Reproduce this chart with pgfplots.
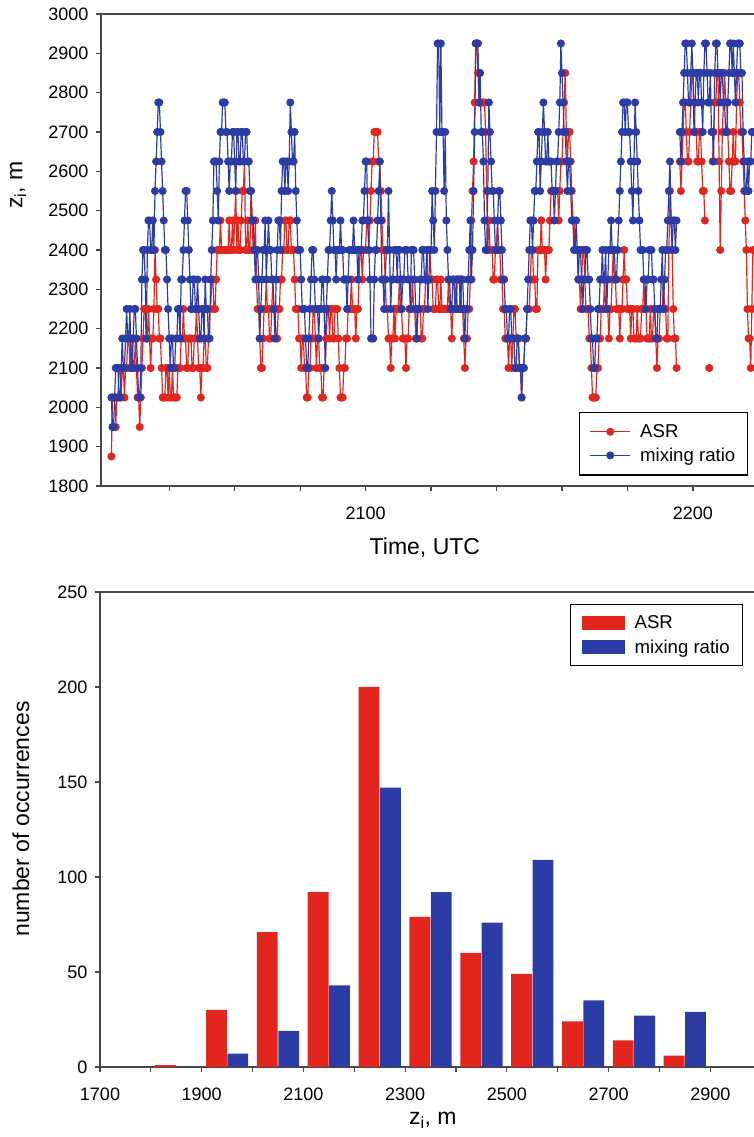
\documentclass[border=0pt]{standalone}
\usepackage{fontspec}
\setmainfont{Liberation Sans}
\usepackage{pgfplots}
\usepackage{pgfplotstable}
\pgfplotsset{compat=1.18}

\definecolor{asr}{RGB}{226,38,30}
\definecolor{mr}{RGB}{44,60,166}
\definecolor{axisgray}{RGB}{72,72,72}

\newcommand\tickfont{\fontsize{18bp}{21bp}\selectfont}
\newcommand\legendfont{\fontsize{18.6bp}{21bp}\selectfont}
\newcommand\labelfont{\fontsize{23bp}{27bp}\selectfont}

% inversion height z_i (m); t = minutes after 20:00 UTC
\pgfplotstableread{
t asr mr
13.4 1875 2025
13.6 2025 1950
13.8 2025 1950
14.0 2025 2025
14.2 1950 2100
14.4 2025 2100
14.6 2025 2100
14.8 2100 2025
15.0 2100 2025
15.2 2025 2100
15.4 2100 2175
15.6 2100 2100
15.8 2025 2100
16.0 2100 2175
16.2 2100 2250
16.4 2175 2175
16.6 2175 2175
16.8 2100 2250
17.0 2100 2100
17.2 2175 2100
17.4 2100 2175
17.6 2100 2250
17.8 2175 2250
18.0 2100 2175
18.2 2025 2100
18.4 2025 2025
18.6 1950 2025
18.8 2025 2100
19.0 2100 2325
19.2 2175 2400
19.4 2250 2400
19.6 2250 2325
19.8 2175 2175
20.0 2175 2400
20.2 2250 2475
20.4 2175 2475
20.6 2100 2400
20.8 2175 2400
21.0 2175 2475
21.2 2250 2400
21.4 2400 2550
21.6 2325 2625
21.8 2250 2700
22.0 2250 2775
22.2 2175 2775
22.4 2175 2700
22.6 2100 2625
22.8 2025 2550
23.0 2025 2475
23.2 2025 2400
23.4 2100 2400
23.6 2100 2325
23.8 2025 2250
24.0 2100 2175
24.2 2025 2100
24.4 2025 2175
24.6 2100 2175
24.8 2025 2100
25.0 2025 2100
25.2 2025 2175
25.4 2025 2175
25.6 2100 2250
25.8 2100 2250
26.0 2100 2175
26.2 2175 2325
26.4 2175 2325
26.6 2250 2400
26.8 2175 2475
27.0 2175 2550
27.2 2100 2550
27.4 2100 2475
27.6 2175 2400
27.8 2175 2325
28.0 2175 2250
28.2 2100 2250
28.4 2100 2325
28.6 2175 2325
28.8 2175 2250
29.0 2250 2250
29.2 2175 2325
29.4 2100 2250
29.6 2100 2175
29.8 2025 2175
30.0 2100 2250
30.2 2100 2250
30.4 2175 2175
30.6 2175 2325
30.8 2100 2250
31.0 2100 2250
31.2 2175 2175
31.4 2250 2175
31.6 2250 2325
31.8 2325 2400
32.0 2325 2475
32.2 2250 2625
32.4 2250 2625
32.6 2325 2625
32.8 2400 2550
33.0 2400 2475
33.2 2400 2625
33.4 2475 2700
33.6 2400 2700
33.8 2400 2775
34.0 2400 2775
34.2 2400 2775
34.4 2400 2700
34.6 2400 2700
34.8 2400 2625
35.0 2475 2550
35.2 2400 2625
35.4 2400 2625
35.6 2475 2700
35.8 2400 2700
36.0 2475 2625
36.2 2550 2550
36.4 2400 2700
36.6 2475 2700
36.8 2400 2625
37.0 2400 2625
37.2 2475 2700
37.4 2550 2700
37.6 2550 2625
37.8 2625 2625
38.0 2400 2700
38.2 2400 2700
38.4 2475 2625
38.6 2400 2625
38.8 2400 2550
39.0 2550 2550
39.2 2475 2475
39.4 2400 2475
39.6 2400 2400
39.8 2475 2325
40.0 2325 2400
40.2 2250 2400
40.4 2250 2325
40.6 2175 2175
40.8 2100 2250
41.0 2100 2325
41.2 2175 2400
41.4 2250 2400
41.6 2250 2475
41.8 2325 2325
42.0 2250 2400
42.2 2250 2475
42.4 2175 2400
42.6 2175 2400
42.8 2250 2325
43.0 2325 2325
43.2 2250 2250
43.4 2250 2175
43.6 2175 2325
43.8 2175 2400
44.0 2250 2475
44.2 2250 2475
44.4 2325 2400
44.6 2325 2550
44.8 2400 2625
45.0 2400 2625
45.2 2475 2550
45.4 2475 2625
45.6 2400 2625
45.8 2400 2550
46.0 2475 2625
46.2 2475 2775
46.4 2400 2700
46.6 2400 2625
46.8 2400 2625
47.0 2325 2700
47.2 2250 2550
47.4 2250 2475
47.6 2250 2400
47.8 2175 2400
48.0 2175 2400
48.2 2100 2325
48.4 2175 2250
48.6 2175 2250
48.8 2100 2250
49.0 2100 2175
49.2 2025 2100
49.4 2025 2100
49.6 2100 2175
49.8 2100 2250
50.0 2175 2325
50.2 2175 2400
50.4 2250 2400
50.6 2250 2325
50.8 2175 2250
51.0 2100 2250
51.2 2175 2250
51.4 2175 2175
51.6 2100 2250
51.8 2100 2250
52.0 2025 2325
52.2 2025 2325
52.4 2100 2250
52.6 2100 2100
52.8 2175 2250
53.0 2250 2325
53.2 2250 2400
53.4 2175 2400
53.6 2250 2475
53.8 2250 2550
54.0 2175 2475
54.2 2175 2400
54.4 2250 2400
54.6 2250 2325
54.8 2250 2400
55.0 2175 2400
55.2 2100 2400
55.4 2025 2475
55.6 2025 2400
55.8 2025 2400
56.0 2100 2325
56.2 2100 2325
56.4 2175 2325
56.6 2175 2250
56.8 2250 2325
57.0 2250 2400
57.2 2250 2400
57.4 2325 2400
57.6 2250 2400
57.8 2250 2475
58.0 2250 2400
58.2 2175 2400
58.4 2250 2400
58.6 2250 2325
58.8 2325 2400
59.0 2400 2400
59.2 2400 2400
59.4 2325 2475
59.6 2400 2475
59.8 2400 2550
60.0 2400 2625
60.2 2475 2625
60.4 2475 2475
60.6 2400 2400
60.8 2475 2325
61.0 2550 2175
61.2 2625 2175
61.4 2625 2175
61.6 2700 2325
61.8 2700 2400
62.0 2700 2400
62.2 2700 2475
62.4 2625 2550
62.6 2625 2625
62.8 2550 2475
63.0 2475 2325
63.2 2400 2325
63.4 2400 2250
63.6 2325 2325
63.8 2250 2400
64.0 2250 2400
64.2 2175 2550
64.4 2175 2400
64.6 2100 2250
64.8 2175 2325
65.0 2175 2325
65.2 2250 2400
65.4 2175 2400
65.6 2250 2400
65.8 2250 2325
66.0 2250 2400
66.2 2325 2400
66.4 2250 2325
66.6 2250 2250
66.8 2175 2325
67.0 2175 2325
67.2 2175 2400
67.4 2100 2400
67.6 2175 2400
67.8 2175 2325
68.0 2250 2325
68.2 2250 2250
68.4 2250 2400
68.6 2325 2400
68.8 2250 2400
69.0 2250 2325
69.2 2175 2250
69.4 2175 2175
69.6 2250 2250
69.8 2250 2250
70.0 2250 2325
70.2 2175 2325
70.4 2175 2400
70.6 2250 2400
70.8 2250 2325
71.0 2325 2325
71.2 2325 2400
71.4 2400 2250
71.6 2400 2325
71.8 2400 2400
72.0 2325 2400
72.2 2325 2550
72.4 2250 2475
72.6 2250 2400
72.8 2250 2550
73.0 2325 2700
73.2 2325 2925
73.4 2250 2925
73.6 2250 2700
73.8 2325 2925
74.0 2250 2700
74.2 2250 2700
74.4 2250 2550
74.6 2250 2700
74.8 2250 2475
75.0 2250 2400
75.2 2325 2325
75.4 2250 2325
75.6 2250 2250
75.8 2175 2250
76.0 2250 2325
76.2 2250 2325
76.4 2250 2250
76.6 2325 2250
76.8 2250 2325
77.0 2250 2325
77.2 2250 2325
77.4 2325 2250
77.6 2250 2325
77.8 2250 2325
78.0 2175 2250
78.2 2100 2175
78.4 2175 2250
78.6 2175 2250
78.8 2250 2325
79.0 2250 2400
79.2 2325 2475
79.4 2475 2325
79.6 2550 2400
79.8 2625 2550
80.0 2775 2700
80.2 2925 2925
80.4 2925 2925
80.6 2850 2925
80.8 2775 2775
81.0 2775 2850
81.2 2775 2700
81.4 2775 2700
81.6 2775 2625
81.8 2775 2475
82.0 2700 2400
82.2 2550 2400
82.4 2400 2550
82.6 2475 2775
82.8 2400 2700
83.0 2400 2625
83.2 2400 2550
83.4 2325 2550
83.6 2325 2475
83.8 2400 2400
84.0 2400 2400
84.2 2475 2475
84.4 2400 2550
84.6 2400 2550
84.8 2325 2475
85.0 2325 2400
85.2 2250 2325
85.4 2250 2325
85.6 2175 2250
85.8 2175 2250
86.0 2175 2175
86.2 2100 2175
86.4 2175 2250
86.6 2175 2250
86.8 2100 2175
87.0 2175 2175
87.2 2250 2175
87.4 2250 2100
87.6 2175 2100
87.8 2175 2175
88.0 2175 2175
88.2 2100 2100
88.4 2100 2100
88.6 2025 2025
88.8 2100 2100
89.0 2100 2100
89.2 2175 2175
89.4 2175 2175
89.6 2250 2250
89.8 2250 2325
90.0 2250 2400
90.2 2325 2475
90.4 2400 2475
90.6 2400 2400
90.8 2325 2475
91.0 2325 2550
91.2 2250 2550
91.4 2250 2625
91.6 2400 2700
91.8 2400 2700
92.0 2400 2550
92.2 2475 2625
92.4 2400 2700
92.6 2400 2775
92.8 2400 2700
93.0 2325 2625
93.2 2400 2625
93.4 2400 2700
93.6 2400 2625
93.8 2475 2625
94.0 2550 2625
94.2 2550 2550
94.4 2550 2550
94.6 2550 2475
94.8 2550 2550
95.0 2550 2625
95.2 2550 2625
95.4 2475 2700
95.6 2550 2775
95.8 2625 2925
96.0 2625 2850
96.2 2700 2775
96.4 2775 2700
96.6 2850 2700
96.8 2700 2625
97.0 2625 2550
97.2 2700 2625
97.4 2700 2625
97.6 2625 2550
97.8 2550 2475
98.0 2475 2475
98.2 2475 2400
98.4 2400 2400
98.6 2400 2475
98.8 2400 2400
99.0 2325 2325
99.2 2325 2400
99.4 2250 2400
99.6 2325 2325
99.8 2400 2250
100.0 2400 2325
100.2 2325 2325
100.4 2250 2400
100.6 2250 2400
100.8 2250 2325
101.0 2175 2325
101.2 2175 2250
101.4 2100 2175
101.6 2025 2175
101.8 2025 2100
102.0 2025 2100
102.2 2025 2175
102.4 2100 2175
102.6 2100 2250
102.8 2175 2250
103.0 2175 2325
103.2 2250 2325
103.4 2250 2400
103.6 2250 2325
103.8 2325 2325
104.0 2250 2400
104.2 2250 2250
104.4 2250 2325
104.6 2175 2400
104.8 2250 2400
105.0 2250 2475
105.2 2325 2400
105.4 2400 2400
105.6 2325 2400
105.8 2325 2325
106.0 2250 2325
106.2 2250 2400
106.4 2250 2475
106.6 2175 2550
106.8 2250 2625
107.0 2250 2700
107.2 2325 2775
107.4 2400 2775
107.6 2325 2700
107.8 2325 2775
108.0 2250 2775
108.2 2250 2700
108.4 2250 2700
108.6 2175 2625
108.8 2250 2550
109.0 2250 2475
109.2 2175 2625
109.4 2175 2775
109.6 2175 2700
109.8 2250 2625
110.0 2175 2550
110.2 2175 2475
110.4 2175 2400
110.6 2250 2400
110.8 2250 2400
111.0 2325 2325
111.2 2250 2325
111.4 2250 2250
111.6 2175 2325
111.8 2175 2325
112.0 2175 2400
112.2 2250 2400
112.4 2175 2400
112.6 2175 2325
112.8 2250 2325
113.0 2250 2250
113.2 2175 2175
113.4 2100 2175
113.6 2175 2250
113.8 2175 2250
114.0 2250 2250
114.2 2250 2325
114.4 2250 2400
114.6 2325 2250
114.8 2250 2325
115.0 2250 2400
115.2 2175 2400
115.4 2175 2475
115.6 2400 2550
115.8 2550 2625
116.0 2475 2475
116.2 2400 2400
116.4 2250 2475
116.6 2175 2475
116.8 2175 2400
117.0 2100 2475
117.2 nan nan
117.4 nan nan
117.6 2625 2700
117.8 2550 2625
118.0 2625 2700
118.2 2700 2775
118.4 2775 2850
118.6 2775 2925
118.8 2700 2925
119.0 2625 2850
119.2 2625 2775
119.4 2700 2775
119.6 2775 2850
119.8 2850 2925
120.0 2850 2850
120.2 2775 2700
120.4 2700 2775
120.6 2700 2850
120.8 2625 2850
121.0 2625 2775
121.2 2700 2850
121.4 2700 2850
121.6 2625 2775
121.8 2550 2700
122.0 2550 2850
122.2 2475 2925
122.4 nan 2925
122.6 nan 2850
122.8 nan 2775
123.0 2100 2775
123.2 nan 2850
123.4 nan 2700
123.6 2625 2700
123.8 2700 2625
124.0 2775 2850
124.2 2775 2925
124.4 2850 2925
124.6 2850 2850
124.8 2625 2850
125.0 2400 2775
125.2 2550 2850
125.4 2700 2850
125.6 2775 2775
125.8 2850 2775
126.0 2775 2700
126.2 2775 2700
126.4 2700 2775
126.6 2625 2850
126.8 2550 2925
127.0 2550 2925
127.2 2625 2850
127.4 2700 2925
127.6 2625 2850
127.8 2625 2775
128.0 2775 2850
128.2 2850 2925
128.4 2850 2925
128.6 2775 2925
128.8 2700 2850
129.0 2700 2850
129.2 2625 2700
129.4 2550 2625
129.6 2475 2550
129.8 2400 2550
130.0 2250 2625
130.2 2175 2550
130.4 2175 2625
130.6 2100 2625
130.8 2250 2700
131.0 2400 2700
}\zidata

% occurrences per 100 m class (class centre)
\pgfplotstableread{
c asr mr
1850 1 0
1950 30 7
2050 71 19
2150 92 43
2250 200 147
2350 79 92
2450 60 76
2550 49 109
2650 24 35
2750 14 27
2850 6 29
}\histdata

\pgfplotsset{
  panel/.style={
    scale only axis, anchor=south west,
    axis x line*=bottom, axis y line*=left,
    axis line style={axisgray, line width=1.4bp},
    tick align=outside,
    major tick length=5bp, minor tick length=5bp,
    every tick/.style={axisgray, line width=1.2bp},
    ticklabel style={font=\tickfont},
    xticklabel style={yshift=-12bp},
    yticklabel style={xshift=-4bp},
    /pgf/number format/assume math mode=true,
    /pgf/number format/1000 sep={},
    clip=false,
    legend cell align=left,
  },
}

\begin{document}
\begin{tikzpicture}
\path[use as bounding box] (0,0) rectangle (754bp,1137bp);

% time series of z_i
\begin{axis}[panel,
  at={(101bp,651bp)}, width=653bp, height=472bp,
  xmin=11.5, xmax=131.2, ymin=1800, ymax=3000,
  xtick={60,120}, xticklabels={2100,2200},
  minor xtick={24,36,48,72,84,96,108},
  ytick={1800,1900,...,3000},
  xlabel={Time, UTC},
  xlabel style={font=\labelfont, at={(axis description cs:0.496,-0.131)}, anchor=center},
  ylabel={z\textsubscript{i}, m},
  ylabel style={font=\labelfont, at={(axis description cs:-0.127,0.638)}, anchor=center},
  unbounded coords=jump,
  legend style={at={(axis description cs:0.732,0.157)}, anchor=north west,
    draw=black, line width=1.2bp, font=\legendfont,
    inner xsep=10bp, inner ysep=10bp, row sep=5bp},
  legend image code/.code={\draw[mark repeat=2,mark phase=2] plot coordinates {(0bp,0bp) (20bp,0bp) (40bp,0bp)};
    \path[draw=none, fill=none] (48bp,-1bp) rectangle (48bp,1bp);},
]
\addplot[asr, line width=1.2bp, mark=*, mark size=3.4bp] table[x=t, y=asr] {\zidata};
\addlegendentry{ASR}
\addplot[mr, line width=1.2bp, mark=*, mark size=3.4bp] table[x=t, y=mr] {\zidata};
\addlegendentry{mixing ratio}
\draw[axisgray, line width=1.4bp] (rel axis cs:0,1) -- (rel axis cs:1,1);
\end{axis}

% histogram of z_i
\begin{axis}[panel,
  at={(100bp,70bp)}, width=654bp, height=475bp,
  xmin=1700, xmax=2986, ymin=0, ymax=250,
  xtick={1700,1900,...,2900},
  minor xtick={1800,2000,...,2800},
  ytick={0,50,...,250},
  ybar, bar width=41,
  xlabel={z\textsubscript{i}, m},
  xlabel style={font=\labelfont, at={(axis description cs:0.509,-0.122)}, anchor=base},
  ylabel={number of occurrences},
  ylabel style={font=\labelfont, at={(axis description cs:-0.121,0.522)}, anchor=center},
  legend style={at={(axis description cs:0.7187,0.975)}, anchor=north west,
    draw=black, line width=1.2bp, font=\legendfont,
    inner xsep=11bp, inner ysep=9bp, row sep=6bp},
  legend image code/.code={\fill[#1] (0bp,-7bp) rectangle (43bp,7bp);
    \path[draw=none, fill=none] (51bp,-1bp) rectangle (51bp,1bp);},
]
\addplot[fill=asr, draw=none, bar shift=-21] table[x=c, y=asr] {\histdata};
\addlegendentry{ASR}
\addplot[fill=mr, draw=none, bar shift=21] table[x=c, y=mr] {\histdata};
\addlegendentry{mixing ratio}
\draw[axisgray, line width=1.4bp] (rel axis cs:0,1) -- (rel axis cs:1,1);
\end{axis}
\end{tikzpicture}
\end{document}
